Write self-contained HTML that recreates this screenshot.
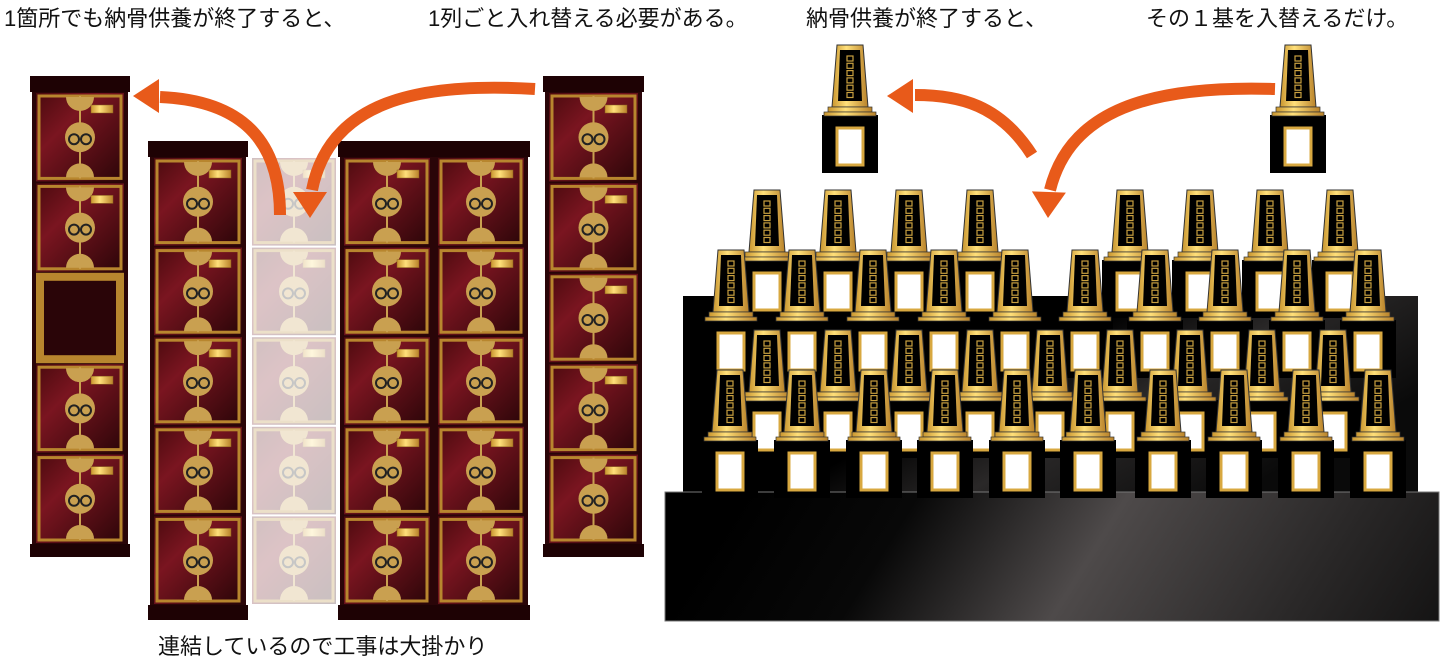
<!DOCTYPE html>
<html><head><meta charset="utf-8"><style>
html,body{margin:0;padding:0;background:#fff;width:1440px;height:664px;overflow:hidden}
.t{position:absolute;font-family:"Liberation Sans","Noto Sans CJK JP",sans-serif;font-size:22px;color:#111;white-space:nowrap;line-height:1}
</style></head><body>
<div class="t" style="left:4px;top:8px">1箇所でも納骨供養が終了すると、</div>
<div class="t" style="left:428px;top:8px">1列ごと入れ替える必要がある。</div>
<div class="t" style="left:806px;top:8px">納骨供養が終了すると、</div>
<div class="t" style="left:1146px;top:8px">その１基を入替えるだけ。</div>
<div class="t" style="left:158px;top:636px">連結しているので工事は大掛かり</div>
<svg id="s" width="1440" height="664" style="position:absolute;left:0;top:0" xmlns="http://www.w3.org/2000/svg">
<defs>
<linearGradient id="red" x1="0" y1="0" x2="1" y2="1"><stop offset="0" stop-color="#4a0a0e"/><stop offset="0.35" stop-color="#7a1520"/><stop offset="1" stop-color="#2a0508"/></linearGradient>
<linearGradient id="gold" x1="0" y1="0" x2="1" y2="0"><stop offset="0" stop-color="#c9952e"/><stop offset="0.4" stop-color="#ffe07a"/><stop offset="1" stop-color="#b9822a"/></linearGradient>
<linearGradient id="plat" gradientUnits="userSpaceOnUse" x1="800" y1="400" x2="1440" y2="800"><stop offset="0" stop-color="#000"/><stop offset="0.2" stop-color="#080808"/><stop offset="0.435" stop-color="#4e4a4a"/><stop offset="0.7" stop-color="#2a2828"/><stop offset="1" stop-color="#050505"/></linearGradient>
<linearGradient id="back" x1="0" y1="0" x2="1" y2="0.5"><stop offset="0" stop-color="#000"/><stop offset="0.5" stop-color="#000"/><stop offset="0.7" stop-color="#2a2828"/><stop offset="1" stop-color="#0a0a0a"/></linearGradient>
</defs>
<g id="g"></g>
</svg>
<script>
var out=[];
function cell(x,y,w,h){var cx=x+w/2,cy=y+h/2;
out.push('<rect x="'+x+'" y="'+y+'" width="'+w+'" height="'+h+'" fill="url(#red)"/>');
out.push('<rect x="'+(x+3)+'" y="'+(y+3)+'" width="'+(w-6)+'" height="'+(h-6)+'" fill="none" stroke="#b8862e" stroke-width="3"/>');
out.push('<line x1="'+cx+'" y1="'+(y+3)+'" x2="'+cx+'" y2="'+(y+h-3)+'" stroke="#c9a050" stroke-width="2"/>');
out.push('<path d="M'+(cx-14)+' '+(y+4)+' A14 14 0 0 0 '+(cx+14)+' '+(y+4)+'Z" fill="#c9a050"/>');
out.push('<path d="M'+(cx-14)+' '+(y+h-4)+' A14 14 0 0 1 '+(cx+14)+' '+(y+h-4)+'Z" fill="#c9a050"/>');
out.push('<circle cx="'+cx+'" cy="'+cy+'" r="15" fill="#c9a050"/>');
out.push('<circle cx="'+(cx-6)+'" cy="'+(cy+2)+'" r="5" fill="none" stroke="#222" stroke-width="2"/><circle cx="'+(cx+6)+'" cy="'+(cy+2)+'" r="5" fill="none" stroke="#222" stroke-width="2"/>');
out.push('<rect x="'+(x+w-33)+'" y="'+(y+12)+'" width="22" height="8" fill="url(#gold)" stroke="#8a6020" stroke-width="0.5"/>');}
function column(x,y0,w,rows,capTop,capBot,empty,nobg){
if(!nobg)out.push('<rect x="'+x+'" y="'+y0+'" width="'+w+'" height="'+(capBot-y0)+'" fill="#2a0508"/>');
var h=(capBot-capTop)/rows;
for(var i=0;i<rows;i++){var y=capTop+i*h;
if(empty===i){out.push('<rect x="'+(x+4)+'" y="'+y+'" width="'+(w-8)+'" height="'+h+'" fill="#b8862e"/><rect x="'+(x+12)+'" y="'+(y+8)+'" width="'+(w-24)+'" height="'+(h-16)+'" fill="#2a0508"/>');}
else cell(x+4,y+1,w-8,h-2);}
}
out.push('<rect x="30" y="76" width="100" height="16" fill="#1e0204"/><rect x="30" y="544" width="100" height="13" fill="#1e0204"/>');
column(32,92,96,5,92,544,2);
out.push('<rect x="543" y="76" width="101" height="16" fill="#1e0204"/><rect x="543" y="544" width="101" height="13" fill="#1e0204"/>');
column(545,92,97,5,92,544);
out.push('<rect x="148" y="141" width="100" height="16" fill="#1e0204"/><rect x="148" y="605" width="100" height="15" fill="#1e0204"/>');
out.push('<rect x="338" y="141" width="192" height="16" fill="#1e0204"/><rect x="338" y="605" width="192" height="15" fill="#1e0204"/>');
column(150,157,96,5,157,605);
out.push('<g opacity="0.25">');column(248,157,92,5,157,605,-1,true);out.push('</g>');
column(340,157,94,5,157,605);column(434,157,94,5,157,605);
out.push('<rect x="683" y="296" width="735" height="200" fill="url(#back)"/>');
out.push('<rect x="665" y="492" width="774" height="129" fill="url(#plat)" stroke="#777" stroke-width="1"/>');
function unit(c,y0){
out.push('<rect x="'+(c-28)+'" y="'+(y0+70)+'" width="56" height="58" fill="#000"/>');
out.push('<polygon points="'+(c-13)+','+y0+' '+(c+13)+','+y0+' '+(c+18)+','+(y0+62)+' '+(c-18)+','+(y0+62)+'" fill="url(#gold)" stroke="#333" stroke-width="1"/>');
out.push('<polygon points="'+(c-10)+','+(y0+5)+' '+(c+10)+','+(y0+5)+' '+(c+12)+','+(y0+56)+' '+(c-12)+','+(y0+56)+'" fill="#000"/>');
for(var k=0;k<6;k++)out.push('<rect x="'+(c-3)+'" y="'+(y0+11+k*7.3)+'" width="6" height="5" fill="none" stroke="#c9a040" stroke-width="1.2"/>');
out.push('<rect x="'+(c-22)+'" y="'+(y0+62)+'" width="44" height="5" fill="url(#gold)" stroke="#333" stroke-width="0.7"/>');
out.push('<rect x="'+(c-26)+'" y="'+(y0+67)+'" width="52" height="4" fill="url(#gold)" stroke="#333" stroke-width="0.7"/>');
out.push('<rect x="'+(c-13)+'" y="'+(y0+83)+'" width="26" height="37" fill="#fff" stroke="#d8a840" stroke-width="3"/>');}
var A=[767,838,909,980,1130,1200,1270,1340],B=[731,802,873,944,1015,1085,1155,1225,1297,1368];
var C=[767,838,909,980,1050,1120,1190,1262,1333],D=[730,802,874,945,1017,1088,1163,1234,1306,1378];
A.forEach(function(c){unit(c,190)});B.forEach(function(c){unit(c,250)});
C.forEach(function(c){unit(c,330)});D.forEach(function(c){unit(c,370)});
unit(850,45);unit(1298,45);
function arrow(d,tx,ty,ang){out.push('<path d="'+d+'" fill="none" stroke="#e85a1a" stroke-width="12"/>');
out.push('<polygon transform="translate('+tx+','+ty+') rotate('+ang+')" points="0,0 -26,-17 -26,17" fill="#e85a1a"/>');}
arrow('M535 89 C420 82 330 100 312 190',310,218,90);
arrow('M280 215 C280 130 230 100 160 97',133,96,180);
arrow('M1032 155 C1000 105 960 95 915 95',887,96,180);
arrow('M1275 89 C1150 85 1070 110 1050 190',1048,218,92);
document.getElementById('g').innerHTML=out.join('');
</script>
</body></html>
